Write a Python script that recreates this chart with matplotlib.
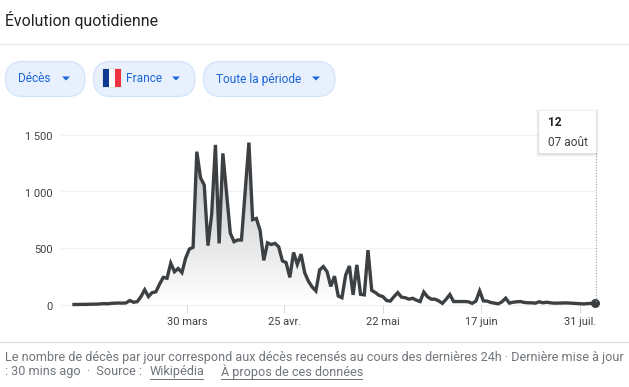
import numpy as np
import matplotlib
matplotlib.use("Agg")
import matplotlib.pyplot as plt
from matplotlib.colors import LinearSegmentedColormap
from matplotlib.patches import FancyBboxPatch, Polygon, Rectangle
from matplotlib.transforms import ScaledTranslation

plt.rcParams["font.family"] = ["Roboto", "DejaVu Sans"]

deces = [0, 0, 1, 1, 2, 3, 3, 5, 8, 6, 10, 12, 13, 12, 14, 35, 20, 25, 70, 130,
         70, 105, 112, 180, 240, 232, 365, 290, 318, 282, 410, 490, 505, 1350, 1120, 1055, 520, 800, 1410, 540,
         1335, 980, 630, 555, 570, 570, 1000, 1430, 750, 760, 655, 390, 545, 530, 540, 510, 385, 370, 240, 460,
         355, 445, 280, 205, 155, 120, 305, 335, 290, 160, 250, 75, 60, 260, 340, 85, 350, 90, 85, 480,
         125, 105, 80, 70, 35, 30, 70, 105, 65, 60, 47, 55, 38, 26, 110, 68, 47, 47, 32, 10,
         47, 88, 26, 26, 26, 26, 24, 10, 30, 120, 32, 30, 18, 12, 6, 24, 56, 12, 20, 24,
         26, 18, 15, 15, 12, 24, 15, 20, 15, 12, 12, 13, 14, 13, 11, 9, 7, 5, 8, 10, 12]
y_ticks = [0, 500, 1000, 1500]
y_labels = ["0", "500", "1 000", "1 500"]
x_ticks = [30.3, 56.5, 83.1, 109.5, 136.0]
x_labels = ["30 mars", "25 avr.", "22 mai", "17 juin", "31 juil."]
pills = ["Décès", "France", "Toute la période"]
footer1 = "Le nombre de décès par jour correspond aux décès recensés au cours des dernières 24h · Dernière mise à jour"

W, H = 629, 387
fig = plt.figure(figsize=(W / 100, H / 100), dpi=100, facecolor="white")

# whole figure in pixels, for the page furniture
bg = fig.add_axes([0, 0, 1, 1])
bg.set_xlim(0, W)
bg.set_ylim(H, 0)
bg.axis("off")

bg.text(5, 20, "Évolution quotidienne", fontsize=11.45, color="#202124", va="center")
bg.plot([0, W], [44.2, 44.2], color="#e8eaed", lw=0.9)
bg.plot([0, W], [341.5, 341.5], color="#e0e0e0", lw=0.9)

boxes = [(5.5, 85), (93.5, 195), (203.5, 335)]
text_x = [18, 126, 216]
caret_x = [66, 176, 316]
for name, (x0, x1), tx, cx in zip(pills, boxes, text_x, caret_x):
    bg.add_patch(FancyBboxPatch((x0, 61.5), x1 - x0, 35,
                                boxstyle="round,pad=0,rounding_size=17.5",
                                fc="#e8f0fe", ec="#d2e3fc", lw=0.9))
    bg.text(tx, 79, name, fontsize=8.6, color="#1a66d8", va="center")
    bg.add_patch(Polygon([(cx - 4, 76.5), (cx + 4, 76.5), (cx, 80.5)], fc="#1a66d8", lw=0))

# flag
bg.add_patch(FancyBboxPatch((102.5, 68.5), 18.5, 19, boxstyle="round,pad=0,rounding_size=2",
                            fc="#f4f4f4", ec="#dddddd", lw=0.6))
bg.add_patch(Rectangle((103, 69), 6, 18, fc="#0f3a94", lw=0))
bg.add_patch(Rectangle((109, 69), 6, 18, fc="white", lw=0))
bg.add_patch(Rectangle((115, 69), 6, 18, fc="#ef3340", lw=0))

bg.text(5, 357, footer1, fontsize=9.05, color="#70757a", va="center")
bg.text(5, 372, ": 30 mins ago  ·  Source :", fontsize=9.05, color="#70757a", va="center")
bg.text(150, 372, "Wikipédia", fontsize=9.05, color="#70757a", va="center")
bg.text(221, 372, "À propos de ces données", fontsize=9.05, color="#70757a", va="center")
bg.plot([149.5, 203], [378.5, 378.5], color="#70757a", lw=0.7)
bg.plot([221, 362], [378.5, 378.5], color="#70757a", lw=0.7)

# chart, x is the point index, as the ticks are evenly spread
left, right, top, bottom = 74, 595, 134.7, 304.5
ax = fig.add_axes([left / W, 1 - bottom / H, (right - left) / W, (bottom - top) / H])
ax.patch.set_alpha(0)
x = np.arange(len(deces))
for s in ax.spines.values():
    s.set_visible(False)

px = (len(deces) - 1) / (right - left)
ax.hlines(y_ticks, -14 * px, len(deces) - 1, color="#f1f3f4", lw=0.9, clip_on=False, zorder=1)
ax.set_yticks(y_ticks, y_labels, fontsize=7.9, color="#3c4043")
ax.set_xticks(x_ticks, x_labels, fontsize=7.9, color="#3c4043")
ax.tick_params(axis="y", length=0, pad=15.5)
ax.tick_params(axis="x", length=6, width=0.8, color="#dadce0", pad=3)
shift = ScaledTranslation(0, -1.4 / 100, fig.dpi_scale_trans)
for lab in ax.get_yticklabels():
    lab.set_transform(lab.get_transform() + shift)

fill = ax.fill_between(x, deces, 0, color="none", lw=0)
grad = np.linspace(0, 1, 256).reshape(-1, 1)
im = ax.imshow(grad, extent=[0, len(deces) - 1, 0, max(deces)], origin="lower", aspect="auto",
               cmap=LinearSegmentedColormap.from_list("g", ["#ffffff", "#bcbec0"]), zorder=2)
im.set_clip_path(fill.get_paths()[0], transform=ax.transData)
ax.set_xlim(0, len(deces) - 1)
ax.set_ylim(0, 1500)

ax.plot(x, deces, color="#3c4043", lw=2.4, solid_joinstyle="miter", clip_on=False, zorder=3)
ax.plot(x[-1], deces[-1], "o", color="#3c4043", ms=6.5, mew=0, clip_on=False, zorder=4)

# tooltip
top_ax = fig.add_axes([0, 0, 1, 1])
top_ax.set_xlim(0, W)
top_ax.set_ylim(H, 0)
top_ax.axis("off")
top_ax.plot([595.5, 595.5], [153, 302], color="#9aa0a6", lw=0.8, ls=(0, (1, 1.5)))
for i, a in zip([3, 2, 1], [0.025, 0.04, 0.06]):
    top_ax.add_patch(Rectangle((539 - i, 111 - i + 1), 57 + 2 * i, 42 + 2 * i, fc="black", alpha=a, lw=0))
top_ax.add_patch(Rectangle((539, 111), 57, 42, fc="white", lw=0))
top_ax.text(548, 122.5, str(deces[-1]), fontsize=8.6, fontweight="bold", color="#202124", va="center")
top_ax.text(548, 142, "07 août", fontsize=8.6, color="#3c4043", va="center")

fig.savefig("out.png", dpi=100)
